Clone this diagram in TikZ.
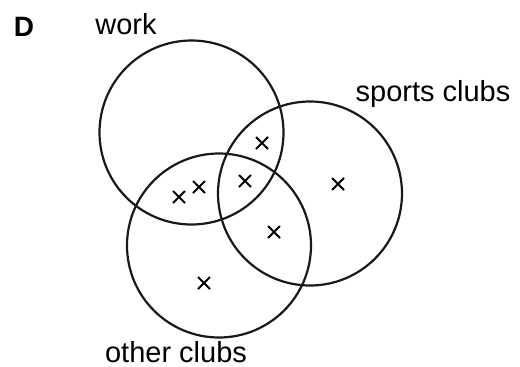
\documentclass[tikz,border=0pt]{standalone}
\usepackage{fontspec}
\setmainfont{Liberation Sans}
\begin{document}
\begin{tikzpicture}[x=1pt,y=-1pt,
  ring/.style={draw=black!90,line width=2.2pt},
  lbl/.style={font=\fontsize{29}{31}\selectfont,inner sep=0pt},
  xmark/.style={line width=1.8pt}]
\useasboundingbox (0,0) rectangle (520,367);
\node[ring,circle,minimum size=184pt,inner sep=0pt] (work) at (191.5,132.5) {};
\node[ring,circle,minimum size=184pt,inner sep=0pt] (sports) at (310,193.5) {};
\node[ring,circle,minimum size=184pt,inner sep=0pt] (other) at (219,245.5) {};
\node[lbl,font=\fontsize{28}{30}\selectfont\bfseries] (D) at (24,27) {D};
\node[lbl] (wl) at (126,24) {work};
\node[lbl] (sl) at (433,94) {sports clubs};
\node[lbl] (ol) at (176,352) {other clubs};
\foreach \x/\y in {262/143,338/184,199/187,179/197,245/181,274/232,204/283}{
  \draw[xmark] (\x-6,\y-6) -- (\x+6,\y+6) (\x-6,\y+6) -- (\x+6,\y-6);
}
\end{tikzpicture}
\end{document}
